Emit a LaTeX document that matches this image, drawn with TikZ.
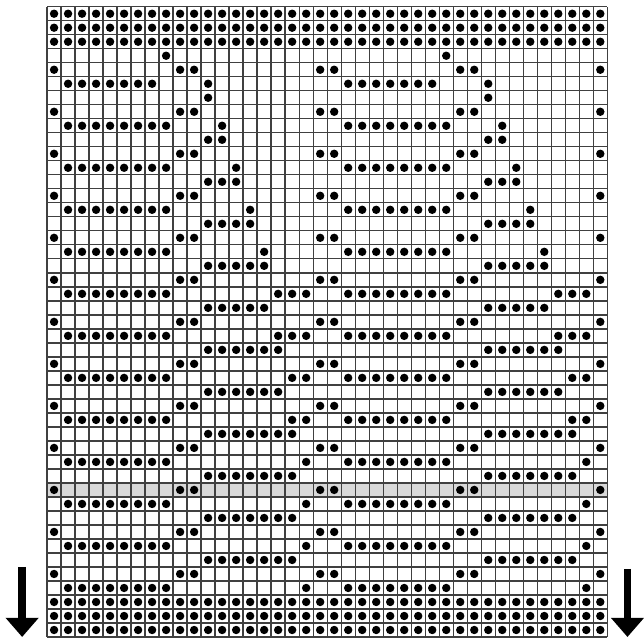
\documentclass[tikz,border=0pt]{standalone}
\usepackage{xcolor}
\usepackage{tikz}
\usetikzlibrary{arrows.meta, calc}

\tikzset{
    gridline/.style={draw=black!75, line width=0.95pt},
    stitch/.style={fill=black},
    band/.style={fill=black!15},
    rowarrow/.style={-{Triangle[width=0.8cm,length=0.48cm]}, line width=0.19cm}
}
\newcommand{\stitchrow}[2]{%
    \foreach \c in {#2} {
        \fill[stitch] (\c-0.5,45.5-#1) circle (0.3);
        \fill[stitch] (\c+19.5,45.5-#1) circle (0.3);
    }}

\begin{document}
\begin{tikzpicture}[x=0.35cm, y=0.35cm]

        \useasboundingbox (-3.36,-0.5) rectangle (42.58,45.48);

        \fill[band] (0,10) rectangle (40,11);
        \draw[gridline, step=1] (0,0) grid (40,45);

        \foreach \r in {1,2,3,43,44,45} {\stitchrow{\r}{1,...,20}}
        \foreach \r in {5,8,...,41} {\stitchrow{\r}{1,10,11,20}}

        \stitchrow{4}{9}
        \stitchrow{6}{2,...,8,12,...,19}
        \stitchrow{7}{12}
        \stitchrow{9}{2,...,9,13,...,19}
        \stitchrow{10}{12,13}
        \stitchrow{12}{2,...,9,14,...,19}
        \stitchrow{13}{12,13,14}
        \stitchrow{15}{2,...,9,15,...,19}
        \stitchrow{16}{12,...,15}
        \stitchrow{18}{2,...,9,16,...,19}
        \stitchrow{19}{12,...,16}
        \stitchrow{21}{2,...,9,17,18,19}
        \stitchrow{22}{12,...,16}
        \stitchrow{24}{2,...,9,17,18,19}
        \stitchrow{25}{12,...,17}
        \stitchrow{27}{2,...,9,18,19}
        \stitchrow{28}{12,...,17}
        \stitchrow{30}{2,...,9,18,19}
        \foreach \r in {33,36,39,42} {\stitchrow{\r}{2,...,9,19}}
        \foreach \r in {31,34,37,40} {\stitchrow{\r}{12,...,18}}

        \coordinate (ltop) at (-1.78,5.0);
        \coordinate (ltip) at (-1.78,0);
        \coordinate (rtop) at (41.44,4.86);
        \coordinate (rtip) at (41.44,0);
        \draw[rowarrow] (ltop) -- (ltip);
        \draw[rowarrow] (rtop) -- (rtip);

    \end{tikzpicture}
\end{document}
